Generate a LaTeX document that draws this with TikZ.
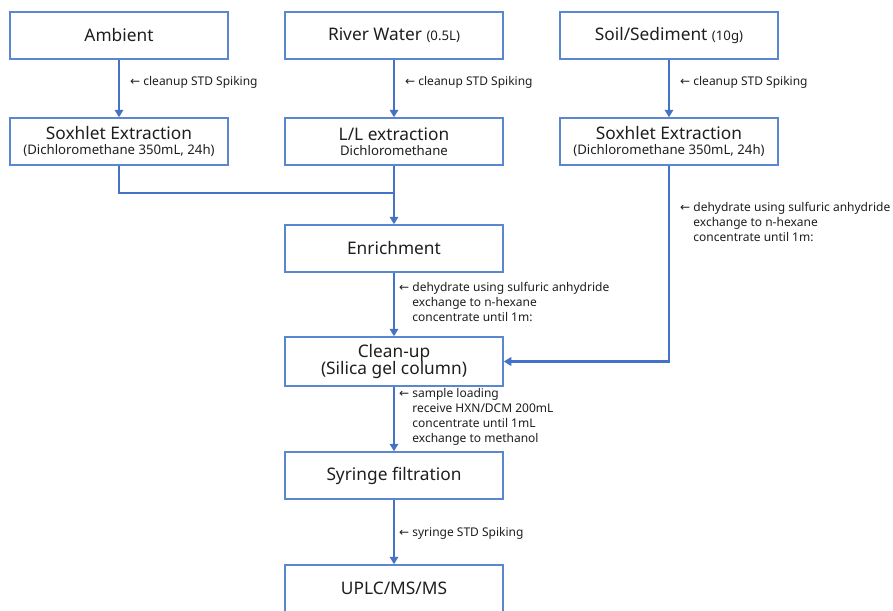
\documentclass[tikz,border=0pt]{standalone}
\usepackage{fontspec}
\setmainfont{Noto Sans}
\newfontfamily\arrfont{DejaVu Sans}
\usetikzlibrary{arrows.meta}
\definecolor{lineblue}{HTML}{4472C4}
\definecolor{boxblue}{HTML}{5B86D0}
\definecolor{txt}{HTML}{1E1E1E}
\newcommand{\boxfs}{\fontsize{17.3}{19}\selectfont}
\newcommand{\subfs}{\fontsize{13.2}{15}\selectfont}
\newcommand{\labfs}{\fontsize{12}{15}\selectfont}
\newcommand{\arr}{{\arrfont ←}}
\begin{document}
\begin{tikzpicture}[x=1pt,y=-1pt,
  procbox/.style={draw=boxblue,line width=1.5pt,minimum width=218pt,minimum height=47pt,inner sep=0pt,align=center,text=txt,font=\boxfs},
  flow/.style={draw=lineblue,line width=2.4pt},
  flowarr/.style={flow,-{Triangle[width=8.5pt,length=7.5pt]}},
  note/.style={anchor=west,align=left,text=txt,font=\labfs,inner sep=0pt}]
\useasboundingbox (0,0) rectangle (893,610);
\clip (0,0) rectangle (893,610);
\node[procbox] (amb) at (119,35.5) {Ambient};
\node[procbox] (riv) at (394,35.5) {River Water {\subfs(0.5L)}};
\node[procbox] (soil) at (669,35.5) {Soil/Sediment {\subfs(10g)}};
\node[procbox] (sox1) at (119,141.5) {Soxhlet Extraction\\[-4pt]{\subfs(Dichloromethane 350mL, 24h)}};
\node[procbox] (ll) at (394,141.5) {L/L extraction\\[-4pt]{\subfs Dichloromethane}};
\node[procbox] (sox3) at (669,141.5) {Soxhlet Extraction\\[-4pt]{\subfs(Dichloromethane 350mL, 24h)}};
\node[procbox] (enr) at (394,248.5) {Enrichment};
\node[procbox,minimum height=49pt] (clean) at (394,361.5) {Clean-up\\[-2pt](Silica gel column)};
\node[procbox] (syr) at (394,475.5) {Syringe filtration};
\node[procbox] (uplc) at (394,588.5) {UPLC/MS/MS};
\coordinate (merge) at (394,193);
\draw[flowarr] (amb) -- (sox1);
\draw[flowarr] (riv) -- (ll);
\draw[flowarr] (soil) -- (sox3);
\draw[flow] (sox1.south) |- (merge);
\draw[flowarr] (ll) -- (enr);
\draw[flowarr] (sox3.south) |- (clean.east);
\draw[flowarr] (enr) -- (clean);
\draw[flowarr] (clean) -- (syr);
\draw[flowarr] (syr) -- (uplc);
\node[note] (n1) at (130,82) {\arr\ cleanup STD Spiking};
\node[note] (n2) at (405,82) {\arr\ cleanup STD Spiking};
\node[note] (n3) at (680,82) {\arr\ cleanup STD Spiking};
\node[note,anchor=north west] (n4) at (680,202.5) {\arr\ dehydrate using sulfuric anhydride\\\phantom{\arr\ }exchange to n-hexane\\\phantom{\arr\ }concentrate until 1m:};
\node[note,anchor=north west] (n5) at (399,282.5) {\arr\ dehydrate using sulfuric anhydride\\\phantom{\arr\ }exchange to n-hexane\\\phantom{\arr\ }concentrate until 1m:};
\node[note,anchor=north west] (n6) at (399,388.5) {\arr\ sample loading\\\phantom{\arr\ }receive HXN/DCM 200mL\\\phantom{\arr\ }concentrate until 1mL\\\phantom{\arr\ }exchange to methanol};
\node[note] (n7) at (399,533) {\arr\ syringe STD Spiking};
\end{tikzpicture}
\end{document}
